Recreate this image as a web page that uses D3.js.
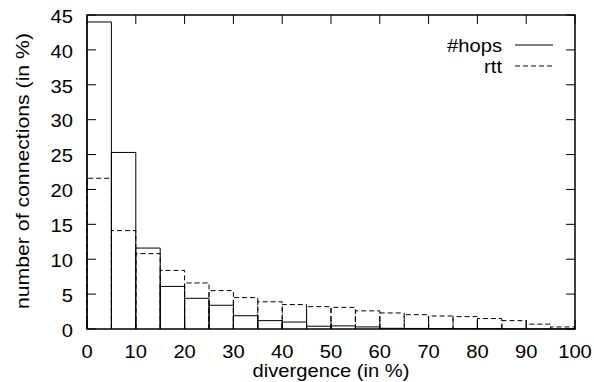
<!DOCTYPE html>
<html><head><meta charset="utf-8">
<script src="https://cdn.jsdelivr.net/npm/d3@7"></script>
<style>body{margin:0;background:#fff}svg{display:block}text{font-family:"Liberation Sans",Arial,sans-serif;fill:#000}</style>
</head><body>
<script>
const binStarts = [0,5,10,15,20,25,30,35,40,45,50,55,60,65,70,75,80,85,90,95];
const binWidth = 5;
const hops = [44.0,25.3,11.6,6.1,4.4,3.4,1.9,1.2,1.0,0.4,0.45,0.3,0.1,0.08,0.06,0.05,0.05,0.04,0.03,0.02];
const rtt  = [21.6,14.1,10.8,8.4,6.6,5.5,4.5,3.9,3.5,3.2,3.1,2.6,2.3,2.05,1.86,1.77,1.5,1.2,0.7,0.3];
const xTicks = [0,10,20,30,40,50,60,70,80,90,100];
const yTicks = [0,5,10,15,20,25,30,35,40,45];
const seriesNames = ["#hops","rtt"];

const W=594,H=382;
const m={l:87,r:575,t:15,b:329};
const SX=1.12, FS=18;
const svg=d3.select("body").append("svg").attr("width",W).attr("height",H);
const x=d3.scaleLinear().domain([0,100]).range([m.l,m.r]);
const y=d3.scaleLinear().domain([0,45]).range([m.b,m.t]);

function label(px,py,str,anchor,rot,sx){
  return svg.append("text")
    .attr("transform",`translate(${px},${py})${rot?` rotate(${rot})`:""} scale(${sx||SX},1)`)
    .attr("text-anchor",anchor).attr("font-size",FS).text(str);
}

function boxes(vals,dash){
  const g=svg.append("g").attr("fill","none").attr("stroke","#000").attr("stroke-width",1);
  if(dash) g.attr("stroke-dasharray",dash);
  g.selectAll("path").data(vals).join("path")
   .attr("d",(v,i)=>{const x0=x(binStarts[i]),x1=x(binStarts[i]+binWidth),y0=y(0),y1=y(v);
     return `M${x0},${y0}V${y1}H${x1}V${y0}`;});
}
boxes(hops,null);
boxes(rtt,"5,3");

// ticks (inward, mirrored)
const tl=9;
const tg=svg.append("g").attr("stroke","#000").attr("stroke-width",1);
xTicks.forEach(t=>{
  tg.append("line").attr("x1",x(t)).attr("x2",x(t)).attr("y1",m.b).attr("y2",m.b-tl);
  tg.append("line").attr("x1",x(t)).attr("x2",x(t)).attr("y1",m.t).attr("y2",m.t+tl);
});
yTicks.forEach(t=>{
  tg.append("line").attr("x1",m.l).attr("x2",m.l+tl).attr("y1",y(t)).attr("y2",y(t));
  tg.append("line").attr("x1",m.r).attr("x2",m.r-tl).attr("y1",y(t)).attr("y2",y(t));
});
svg.append("rect").attr("x",m.l).attr("y",m.t).attr("width",m.r-m.l).attr("height",m.b-m.t)
  .attr("fill","none").attr("stroke","#000").attr("stroke-width",1.5);

// tick labels
xTicks.forEach(d=>label(x(d),357.5,d,"middle"));
yTicks.forEach(d=>label(73,y(d)+7.8,d,"end"));

label((m.l+m.r)/2,377,"divergence (in %)","middle");
label(29,171,"number of connections (in %)","middle",-90,1.18);

// legend
[0,1].forEach(i=>{
  const yy=45+i*21;
  label(502,yy+6.5,seriesNames[i],"end");
  svg.append("line").attr("x1",515).attr("x2",553).attr("y1",yy).attr("y2",yy).attr("stroke","#000").attr("stroke-width",1)
    .attr("stroke-dasharray",i?"5,3":null);
});
</script>
</body></html>
